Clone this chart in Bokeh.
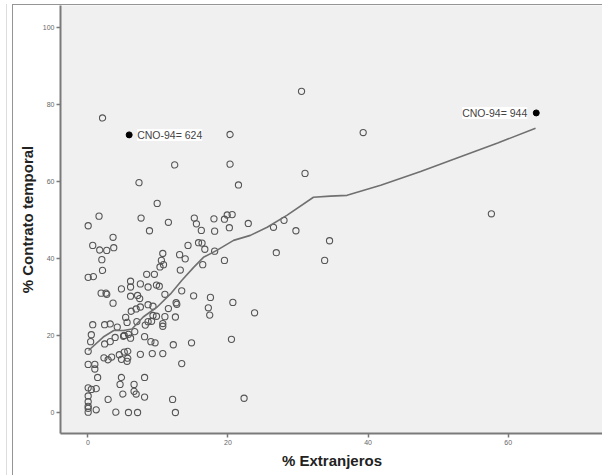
from bokeh.plotting import figure
from bokeh.layouts import column
from bokeh.models import ColumnDataSource, Label, FixedTicker, Range1d
from bokeh.embed import file_html
from bokeh.resources import INLINE

# --- data ---
pct_extranjeros = [
    30.5, 2.1, 20.3, 39.3, 12.4, 20.3, 31.0, 21.5, 7.3, 9.9, 57.6, 1.6, 0.05, 7.6,
    11.5, 15.2, 15.5, 16.2, 8.8, 18.0, 18.1, 19.5, 19.9, 20.6, 20.2, 22.9, 26.5, 28.0,
    29.7, 34.5, 33.8, 26.9, 0.7, 1.7, 2.7, 3.6, 3.7, 2.0, 2.1, 0.05, 0.8, 14.3, 15.8,
    16.3, 16.7, 18.1, 19.5, 16.4, 13.1, 13.9, 10.7, 10.5, 10.8, 10.3, 13.2, 8.4, 9.5,
    6.1, 6.1, 7.5, 9.8, 10.2, 8.6, 4.8, 1.9, 2.6, 2.7, 6.1, 7.1, 7.4, 11.0, 13.4,
    15.1, 17.5, 20.7, 17.2, 17.4, 23.8, 3.6, 8.6, 9.3, 7.5, 6.9, 6.2, 12.6, 12.7,
    11.5, 9.3, 9.8, 11.0, 12.5, 5.4, 5.6, 7.0, 8.6, 9.1, 8.2, 10.7, 10.7, 0.7, 2.4,
    3.2, 4.2, 0.5, 0.4, 0.05, 2.4, 3.2, 3.9, 5.2, 5.8, 5.1, 6.1, 6.7, 8.1, 9.0, 9.6,
    12.2, 14.8, 20.5, 2.3, 2.9, 3.4, 4.5, 4.8, 5.2, 5.7, 5.7, 5.6, 7.5, 9.2, 10.7,
    13.4, 0.05, 1.0, 1.0, 1.4, 4.8, 4.6, 6.6, 8.1, 0.05, 0.5, 1.2, 6.6, 6.9, 5.0,
    0.05, 0.05, 8.1, 2.9, 12.1, 22.3, 0.05, 0.05, 0.05, 1.2, 4.0, 5.8, 7.1, 12.5,
]
pct_contrato_temporal = [
    83.4, 76.5, 72.2, 72.7, 64.3, 64.5, 62.1, 59.1, 59.7, 54.3, 51.6, 51.0, 48.5, 50.5,
    49.4, 50.5, 49.0, 47.3, 47.2, 50.3, 47.1, 50.2, 51.3, 51.4, 48.0, 49.1, 48.1, 49.9,
    47.2, 44.6, 39.5, 41.5, 43.4, 42.2, 42.1, 45.5, 42.8, 39.7, 36.9, 35.1, 35.3, 43.4, 44.1,
    44.0, 42.4, 41.9, 39.5, 38.4, 41.0, 39.9, 41.3, 39.5, 38.4, 37.8, 37.0, 35.9, 35.9,
    34.1, 32.6, 33.4, 33.1, 32.8, 32.6, 32.1, 31.0, 31.0, 30.7, 30.2, 30.4, 29.6, 30.7, 31.6,
    30.3, 29.9, 28.6, 27.2, 25.3, 25.9, 28.4, 28.0, 27.6, 27.4, 26.9, 26.3, 28.5, 28.1,
    27.0, 25.2, 25.0, 24.9, 24.8, 24.7, 23.4, 23.6, 23.6, 23.7, 22.7, 23.1, 22.4, 22.8, 22.8,
    23.0, 22.2, 20.2, 18.4, 15.9, 17.8, 18.4, 19.5, 20.0, 20.3, 19.8, 19.3, 21.0, 19.7, 18.4, 18.1,
    17.6, 18.1, 19.0, 14.2, 13.7, 14.4, 15.0, 13.8, 15.7, 15.9, 14.1, 13.3, 15.1, 15.3, 15.3,
    12.7, 12.5, 12.5, 11.3, 9.1, 9.1, 7.3, 7.3, 9.1, 6.4, 6.0, 6.2, 5.5, 4.8, 4.8,
    4.3, 2.8, 4.0, 3.4, 3.4, 3.7, 1.6, 1.1, 0.1, 0.7, 0.1, 0.0, 0.0, 0.0,
]

# labelled cases
case_x = [5.9, 64.0]
case_y = [72.1, 77.8]
case_labels = ["CNO-94= 624", "CNO-94= 944"]

# loess fit line
fit_x = [0.1, 2.2, 3.7, 5.1, 6.3, 7.9, 9.9, 11.8, 13.4, 15.1, 16.5, 18.4, 20.8, 23.2,
         25.6, 28.4, 32.2, 34.6, 37.0, 39.4, 41.8, 47.5, 52.7, 58.5, 63.9]
fit_y = [16.1, 19.6, 21.3, 21.3, 21.7, 24.8, 27.4, 30.8, 34.3, 37.7, 40.3, 42.1, 44.7, 46.0,
         48.1, 51.2, 55.9, 56.2, 56.4, 57.7, 59.0, 62.6, 66.1, 70.0, 73.8]

x_ticks = [0, 20, 40, 60]
y_ticks = [0, 20, 40, 60, 80, 100]

FONT = "Liberation Sans"

p = figure(width=590, height=471, output_backend="svg", toolbar_location=None,
           x_range=Range1d(-3.9, 73.6), y_range=Range1d(-5.45, 105.7),
           min_border_left=47, min_border_right=0, min_border_top=0, min_border_bottom=43)

p.background_fill_color = "#f0f0f0"
p.border_fill_color = "white"
p.outline_line_color = None
p.xgrid.visible = False
p.ygrid.visible = False
p.styles = {"border-left": "1.5px solid #959595", "border-top": "1.5px solid #959595"}

src = ColumnDataSource(dict(x=pct_extranjeros, y=pct_contrato_temporal))
p.scatter("x", "y", source=src, size=6.2, fill_color=None, line_color="#555555",
          line_width=1.1)

p.line(fit_x, fit_y, line_color="#707070", line_width=1.6)

p.scatter(case_x, case_y, size=6, fill_color="black", line_color="black")

p.add_layout(Label(x=case_x[0], y=case_y[0], text=case_labels[0], x_offset=8,
                   text_baseline="middle", text_align="left",
                   text_font=FONT, text_font_size="10.5px", text_color="#444444",
                   background_fill_color="white", background_fill_alpha=1))
p.add_layout(Label(x=case_x[1], y=case_y[1], text=case_labels[1], x_offset=-9,
                   text_baseline="middle", text_align="right",
                   text_font=FONT, text_font_size="10.5px", text_color="#444444",
                   background_fill_color="white", background_fill_alpha=1))

for ax, ticks in ((p.xaxis[0], x_ticks), (p.yaxis[0], y_ticks)):
    ax.ticker = FixedTicker(ticks=ticks)
    ax.axis_line_color = "#7a7a7a"
    ax.axis_line_width = 2
    ax.major_tick_line_color = "#7a7a7a"
    ax.major_tick_line_width = 1.5
    ax.major_tick_in = 0
    ax.major_tick_out = 4
    ax.minor_tick_line_color = None
    ax.major_label_text_font = FONT
    ax.major_label_text_font_size = "7px"
    ax.major_label_text_color = "#666666"
    ax.major_label_standoff = 2
    ax.axis_label_text_font = FONT
    ax.axis_label_text_font_style = "bold"
    ax.axis_label_text_font_size = "15px"
    ax.axis_label_text_color = "#222222"

p.xaxis.axis_label = "% Extranjeros"
p.yaxis.axis_label = "% Contrato temporal"
p.xaxis.axis_label_standoff = 4
p.yaxis.axis_label_standoff = 4

page = column(p, styles={"margin-left": "6px", "margin-top": "3.5px",
                         "border-left": "1px solid #dddddd", "padding-left": "4.5px"})

open("out.html", "w").write(file_html(page, INLINE))
